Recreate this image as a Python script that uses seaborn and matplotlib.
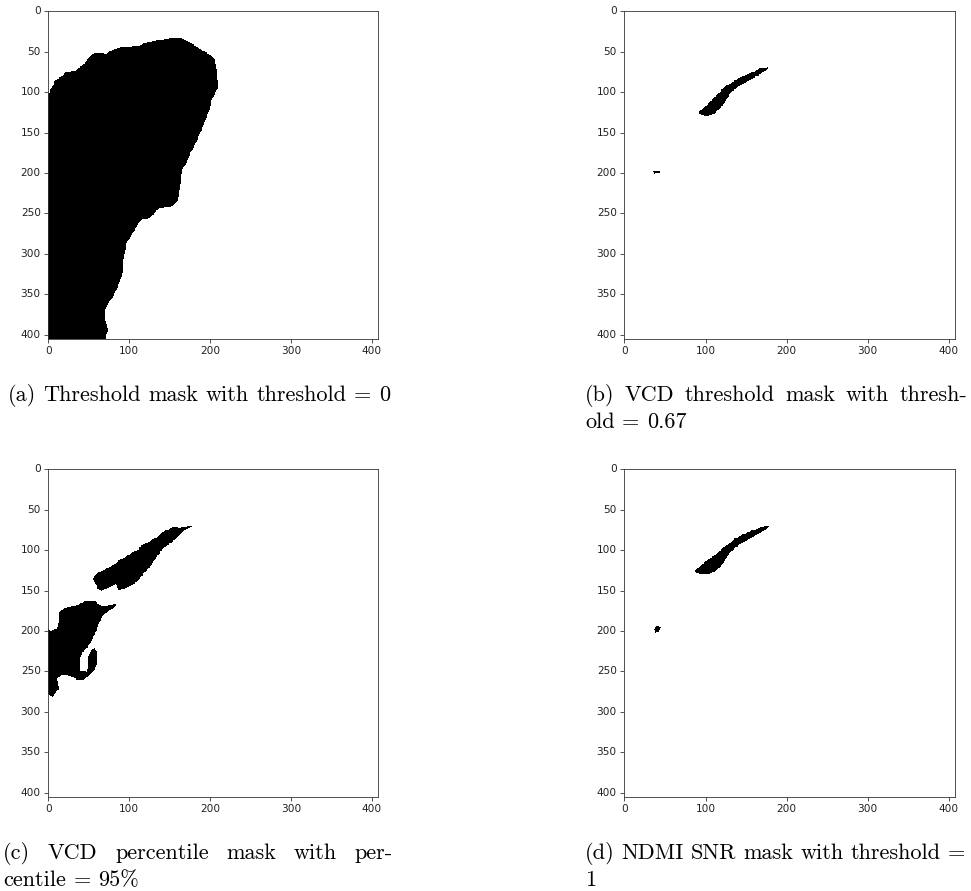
import numpy as np
import matplotlib
matplotlib.use("Agg")
import matplotlib.pyplot as plt
from matplotlib.path import Path
import seaborn as sns

# ---------------- data ----------------
N_ROWS, N_COLS = 406, 408
XTICKS = [0, 100, 200, 300, 400]
YTICKS = [0, 50, 100, 150, 200, 250, 300, 350, 400]

# (a) threshold mask outline (column, row)
A_X = [-1, 0, 3.3, 7.4, 11.6, 17.8, 21.9, 34.3, 38.4, 44.6, 48.8, 52.9, 57.0, 63.2, 71.5,
       77.7, 83.9, 92.1, 104.5, 112.8, 123.1, 133.5, 145.9, 154.1, 164.5, 174.8, 187.2,
       197.5, 205.8, 207.8, 208.7, 209.9, 205.8, 201.6, 198.8, 195.4, 191.3, 187.2, 183.0,
       178.9, 174.8, 170.7, 166.5, 164.5, 162.4, 161.6, 160.3, 154.1, 145.9, 137.6, 133.5,
       129.3, 123.1, 116.9, 110.7, 106.6, 102.5, 96.3, 94.2, 92.1, 93.0, 90.1, 85.9, 79.7,
       73.6, 69.4, 70.7, 73.6, 71.5, 71.5, -1]
A_Y = [101.9, 101.9, 95.7, 87.4, 83.3, 79.2, 75.1, 73.0, 68.9, 64.7, 58.6, 54.4, 51.6, 51.1,
       52.4, 48.3, 46.2, 44.1, 42.9, 42.1, 37.9, 35.9, 34.6, 33.0, 33.8, 37.9, 46.2, 52.4,
       58.6, 68.9, 81.2, 93.6, 101.9, 110.1, 122.5, 130.7, 143.1, 151.3, 161.7, 169.9,
       176.1, 188.5, 192.6, 205.0, 217.3, 225.6, 233.8, 240.0, 242.9, 243.3, 246.2, 252.4,
       256.5, 256.5, 262.7, 270.9, 277.1, 287.4, 299.8, 312.2, 320.4, 328.7, 341.1, 353.4,
       361.7, 372.0, 382.3, 394.7, 400.9, 407, 407]

# (b) VCD threshold mask
B1_X = [176.1, 167.0, 158.8, 150.5, 142.3, 136.1, 132.0, 125.8, 121.7, 117.5, 111.3, 107.2,
        103.1, 99.0, 93.6, 92.0, 94.9, 101.0, 107.2, 113.4, 119.6, 123.7, 127.8, 132.0,
        138.2, 146.4, 154.7, 162.9, 171.1, 177.3]
B1_Y = [68.9, 70.9, 75.1, 77.9, 82.1, 85.4, 88.7, 91.6, 94.4, 99.8, 106.0, 110.1, 114.2,
        118.4, 122.5, 125.8, 128.7, 129.5, 128.7, 124.5, 118.4, 112.2, 106.0, 99.8, 94.4,
        89.5, 85.4, 80.4, 75.1, 70.9]
B2_X = [36, 43, 44, 37]
B2_Y = [198, 197, 200, 201]

# (c) VCD percentile mask
C1_X = [177.7, 170.7, 162.4, 154.1, 147.9, 141.7, 137.6, 133.5, 127.3, 121.1, 114.9, 110.7,
        104.5, 98.3, 92.1, 85.9, 81.8, 75.6, 69.4, 63.2, 59.1, 56.2, 55.8, 59.1, 62.0, 65.3,
        71.5, 77.7, 83.1, 84.7, 87.2, 92.1, 98.3, 104.5, 108.7, 112.8, 116.9, 121.1, 125.2,
        128.5, 132.6, 136.8, 141.7, 147.9, 154.1, 160.3, 165.7, 170.7, 176.9]
C1_Y = [69.3, 71.3, 72.2, 71.3, 74.6, 77.5, 80.4, 84.5, 87.8, 91.1, 94.0, 99.4, 102.3, 106.4,
        110.5, 113.4, 117.5, 120.8, 124.1, 127.0, 129.9, 132.4, 137.3, 143.5, 148.9, 150.5,
        147.6, 144.8, 141.5, 145.6, 149.7, 148.1, 145.6, 142.3, 139.4, 135.3, 129.9, 125.0,
        120.8, 115.9, 110.5, 104.3, 98.1, 93.2, 88.6, 83.7, 77.5, 73.5, 71.3]
C2_X = [-1, 3.3, 10.7, 12.8, 13.6, 17.7, 26, 36.3, 46.7, 57, 61.1, 67.2, 77.6, 83.8, 82.6, 75.5,
        67.2, 63.2, 59.1, 54.9, 48.7, 42, 39.5, 40, 39, 47, 49, 50, 52.5, 57, 60.3, 59.8, 57,
        50.8, 44.6, 36.3, 30.1, 23.9, 15.7, 10.7, 11.5, 13.6, 9.5, 5.4, 1.2, -1]
C2_Y = [197.1, 199.2, 197.1, 186.5, 176.5, 172.4, 170.3, 167.4, 163.3, 162, 166.2, 169.1, 167.4,
        166.2, 170.3, 174.4, 180.6, 188.9, 199.2, 209.4, 219.8, 226, 234, 244.5, 249.5, 250,
        242.5, 232, 223.5, 221.8, 226, 238.4, 248.6, 254.8, 259.8, 261.1, 257, 254.8, 254.8,
        258.9, 267.2, 271.3, 275.4, 281.6, 279.6, 276]

# (d) NDMI SNR mask
D1_X = [177.3, 167.0, 154.7, 144.3, 136.1, 129.9, 123.7, 117.5, 111.3, 105.2, 99.0, 92.8,
        86.6, 88.7, 96.9, 105.2, 113.4, 119.6, 123.7, 127.8, 134.0, 140.2, 148.5, 156.7,
        167.0, 175.3, 178.6]
D1_Y = [69.3, 72.2, 76.7, 81.7, 85.8, 91.1, 95.3, 101.0, 106.4, 110.5, 114.6, 120.8, 125.0,
        128.3, 129.9, 129.1, 125.0, 118.8, 112.6, 106.4, 99.4, 94.0, 89.1, 84.6, 78.8, 73.5,
        70.5]
D2_X = [38, 42, 44, 42, 38, 37]
D2_Y = [195, 193, 196, 201, 202, 198]

CAP_A = ["(a) Threshold mask with threshold = 0"]
CAP_B = ["(b) VCD threshold mask with thresh-", "old = 0.67"]
CAP_C = ["(c) VCD percentile mask with per-", "centile = 95%"]
CAP_D = ["(d) NDMI SNR mask with threshold =", "1"]


def rasterize(polys):
    jj, ii = np.meshgrid(np.arange(N_COLS), np.arange(N_ROWS))
    pts = np.column_stack([jj.ravel(), ii.ravel()])
    m = np.zeros(N_ROWS * N_COLS, dtype=bool)
    for xs, ys in polys:
        m |= Path(np.column_stack([xs, ys])).contains_points(pts)
    return m.reshape(N_ROWS, N_COLS).astype(float)


masks = [
    rasterize([(A_X, A_Y)]),
    rasterize([(B1_X, B1_Y), (B2_X, B2_Y)]),
    rasterize([(C1_X, C1_Y), (C2_X, C2_Y)]),
    rasterize([(D1_X, D1_Y), (D2_X, D2_Y)]),
]

# ---------------- figure ----------------
W, H = 971, 891
fig = plt.figure(figsize=(W / 100, H / 100), dpi=100)
fig.patch.set_facecolor("white")

# axes boxes in pixels: left, top, right, bottom
boxes = [(48, 11, 378, 339), (624, 11, 955, 339), (48, 469, 378, 797), (624, 469, 955, 797)]

for mask, (l, t, r, b) in zip(masks, boxes):
    ax = fig.add_axes([l / W, 1 - b / H, (r - l) / W, (b - t) / H])
    sns.heatmap(mask, cmap="binary", vmin=0, vmax=1, cbar=False, ax=ax,
                xticklabels=False, yticklabels=False, rasterized=True)
    for s in ax.spines.values():
        s.set_visible(True)
        s.set_linewidth(0.6)
        s.set_color("#333333")
    ax.set_xticks([v + 0.5 for v in XTICKS])
    ax.set_xticklabels([str(v) for v in XTICKS], rotation=0)
    ax.set_yticks([v + 0.5 for v in YTICKS])
    ax.set_yticklabels([str(v) for v in YTICKS], rotation=0, va="center")
    ax.tick_params(axis="both", which="major", length=2.7, width=0.6, pad=2.5,
                   labelsize=7.6, color="#333333", labelcolor="#222222",
                   bottom=True, left=True)

# ---------------- captions ----------------
CAP_FONT = ["cmr10", "DejaVu Serif"]
FS = 16
renderer = fig.canvas.get_renderer()


def draw_line(text, x0, baseline, width, justify):
    words = text.split(" ")
    objs = [fig.text(0, 1 - baseline / H, w, fontsize=FS, family=CAP_FONT,
                     va="baseline", ha="left", color="black") for w in words]
    widths = [o.get_window_extent(renderer).width for o in objs]
    space = FS * 100 / 72 * 0.333
    if justify and len(words) > 1:
        gap = (width - sum(widths)) / (len(words) - 1)
    else:
        gap = space
    x = x0
    for o, wd in zip(objs, widths):
        o.set_x(x / W)
        x += wd + gap


def draw_caption(lines, x0, base, width):
    for k, line in enumerate(lines):
        justify = k < len(lines) - 1
        draw_line(line, x0, base + 27 * k, width, justify)


draw_caption(CAP_A, 8, 401, 382)
draw_caption(CAP_B, 585, 401, 382)
draw_caption(CAP_C, 3, 859, 390)
draw_caption(CAP_D, 585, 859, 380)

fig.savefig("out.png", dpi=100, facecolor="white")
